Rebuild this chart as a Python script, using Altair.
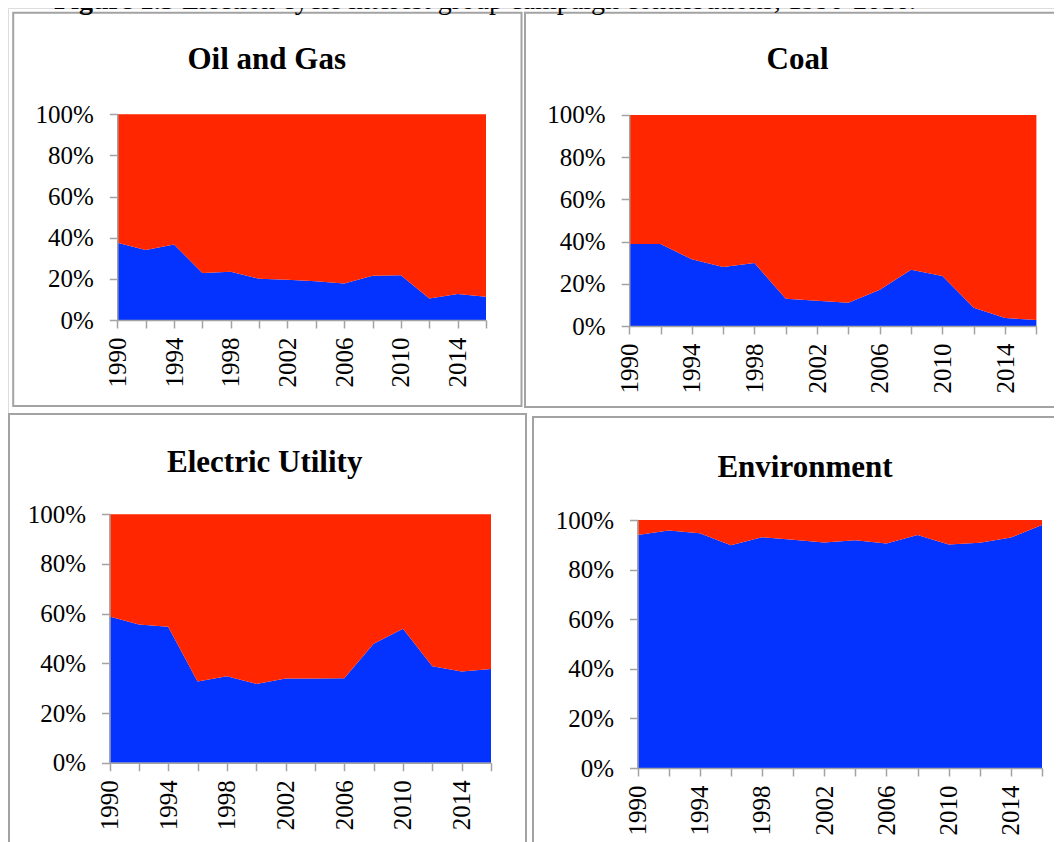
import altair as alt
import pandas as pd

# ---------------- data ----------------
years = [1990, 1992, 1994, 1996, 1998, 2000, 2002, 2004, 2006, 2008, 2010, 2012, 2014, 2016]
panels = ["Oil and Gas", "Coal", "Electric Utility", "Environment"]
parties = ["Democrat", "Republican"]

oil_dem = [37.5, 34.0, 36.7, 22.9, 23.5, 20.0, 19.6, 18.8, 17.8, 21.5, 21.7, 10.5, 12.7, 11.3]
oil_rep = [62.5, 66.0, 63.3, 77.1, 76.5, 80.0, 80.4, 81.2, 82.2, 78.5, 78.3, 89.5, 87.3, 88.7]

coal_dem = [38.8, 38.8, 31.6, 28.0, 29.8, 12.9, 12.0, 11.0, 17.2, 26.7, 23.7, 8.7, 3.8, 2.9]
coal_rep = [61.2, 61.2, 68.4, 72.0, 70.2, 87.1, 88.0, 89.0, 82.8, 73.3, 76.3, 91.3, 96.2, 97.1]

elec_dem = [58.8, 55.6, 54.7, 32.7, 34.8, 31.7, 33.9, 33.9, 34.0, 47.9, 53.9, 38.8, 36.7, 37.7]
elec_rep = [41.2, 44.4, 45.3, 67.3, 65.2, 68.3, 66.1, 66.1, 66.0, 52.1, 46.1, 61.2, 63.3, 62.3]

env_dem = [94.0, 95.8, 94.7, 89.8, 93.0, 92.0, 90.9, 91.8, 90.5, 94.0, 90.1, 90.8, 92.9, 98.0]
env_rep = [6.0, 4.2, 5.3, 10.2, 7.0, 8.0, 9.1, 8.2, 9.5, 6.0, 9.9, 9.2, 7.1, 2.0]

x_ticks = [1990, 1992, 1994, 1996, 1998, 2000, 2002, 2004, 2006, 2008, 2010, 2012, 2014, 2016]
y_ticks = [0, 0.2, 0.4, 0.6, 0.8, 1.0]

caption_bold = "Figure 1.5"
caption_rest = "Election cycle interest group campaign contributions, 1990-2016."

series = {
    "Oil and Gas": (oil_dem, oil_rep),
    "Coal": (coal_dem, coal_rep),
    "Electric Utility": (elec_dem, elec_rep),
    "Environment": (env_dem, env_rep),
}

rows = []
for name in panels:
    dem, rep = series[name]
    for yr, d, r in zip(years, dem, rep):
        rows.append({"panel": name, "year": yr, "party": parties[0], "share": d, "ord": 0})
        rows.append({"panel": name, "year": yr, "party": parties[1], "share": r, "ord": 1})
df = pd.DataFrame(rows)
one = pd.DataFrame({"k": [0]})

# ---------------- layout / style ----------------
W, H = 1046, 834
FONT = "Liberation Serif"
BLUE = "#0433FF"
RED = "#FF2600"
GRAY = "#a3a3a3"

# plot-area pixel boxes (view coordinates) and panel frames / titles
layout = {
    "Oil and Gas": dict(x0=109.3, x1=478.0, y0=106.3, y1=312.0,
                        tx=258.7, ty=61, frame=(5.2, 513.5, 4.7, 398.0)),
    "Coal": dict(x0=621.2, x1=1028.4, y0=106.9, y1=318.0,
                 tx=789.5, ty=61, frame=(517.0, 1070.0, 4.7, 399.0)),
    "Electric Utility": dict(x0=101.5, x1=483.0, y0=506.2, y1=754.7,
                             tx=256.7, ty=463.5, frame=(1.0, 518.0, 406.0, 860.0)),
    "Environment": dict(x0=629.5, x1=1034.0, y0=512.0, y1=760.0,
                        tx=797.0, ty=468.5, frame=(525.0, 1070.0, 409.0, 860.0)),
}

layers = []

# panel frames
for name in panels:
    fx0, fx1, fy0, fy1 = layout[name]["frame"]
    layers.append(
        alt.Chart(one).mark_rect(fillOpacity=0, stroke=GRAY, strokeWidth=2).encode(
            x=alt.value(fx0), x2=alt.value(fx1), y=alt.value(fy0), y2=alt.value(fy1)
        )
    )

label_expr = "(datum.value - 1990) % 4 === 0 ? datum.label : ''"

for name in panels:
    L = layout[name]
    area = (
        alt.Chart(df)
        .transform_filter(alt.datum.panel == name)
        .mark_area(interpolate="linear")
        .encode(
            x=alt.X(
                "year:Q",
                title=None,
                scale=alt.Scale(domain=[1990, 2016], range=[L["x0"], L["x1"]], nice=False, zero=False),
                axis=alt.Axis(
                    orient="bottom",
                    offset=L["y1"] - H,
                    values=x_ticks,
                    format="d",
                    labelExpr=label_expr,
                    labelAngle=270,
                    labelAlign="right",
                    labelBaseline="middle",
                    labelFlush=False,
                    labelOverlap=False,
                    labelBound=False,
                    labelFont=FONT,
                    labelFontSize=25,
                    labelColor="black",
                    labelPadding=9,
                    tickSize=8,
                    tickColor=GRAY,
                    tickWidth=1.5,
                    domainColor=GRAY,
                    domainWidth=1.5,
                    grid=False,
                    zindex=1,
                ),
            ),
            y=alt.Y(
                "share:Q",
                title=None,
                stack="normalize",
                scale=alt.Scale(domain=[0, 1], range=[L["y1"], L["y0"]], nice=False),
                axis=alt.Axis(
                    orient="left",
                    offset=-L["x0"],
                    values=y_ticks,
                    format=".0%",
                    labelFlush=False,
                    labelOverlap=False,
                    labelBound=False,
                    labelFont=FONT,
                    labelFontSize=25,
                    labelColor="black",
                    labelPadding=16,
                    tickSize=8,
                    tickColor=GRAY,
                    tickWidth=1.5,
                    domainColor=GRAY,
                    domainWidth=1.5,
                    grid=False,
                    zindex=1,
                ),
            ),
            color=alt.Color(
                "party:N",
                scale=alt.Scale(domain=parties, range=[BLUE, RED]),
                legend=None,
            ),
            order=alt.Order("ord:Q"),
        )
    )
    layers.append(area)

# panel titles
for name in panels:
    L = layout[name]
    layers.append(
        alt.Chart(one).mark_text(
            text=name, font=FONT, fontSize=31, fontWeight="bold",
            align="center", baseline="alphabetic", color="black"
        ).encode(x=alt.value(L["tx"]), y=alt.value(L["ty"]))
    )

# figure caption (cut off at the top in the reference)
layers.append(
    alt.Chart(one).mark_text(
        text=caption_bold, font=FONT, fontSize=28, fontWeight="bold",
        align="left", baseline="alphabetic", color="black"
    ).encode(x=alt.value(46), y=alt.value(1))
)
layers.append(
    alt.Chart(one).mark_text(
        text=caption_rest, font=FONT, fontSize=28,
        align="left", baseline="alphabetic", color="black"
    ).encode(x=alt.value(174), y=alt.value(1))
)

chart = (
    alt.layer(*layers)
    .resolve_scale(x="independent", y="independent")
    .properties(width=W, height=H, padding=0, autosize=alt.AutoSizeParams(type="none"))
    .configure_view(stroke="transparent")
    .configure(background="white")
)

chart.save("out.html", embed_options={"renderer": "svg", "actions": False})
